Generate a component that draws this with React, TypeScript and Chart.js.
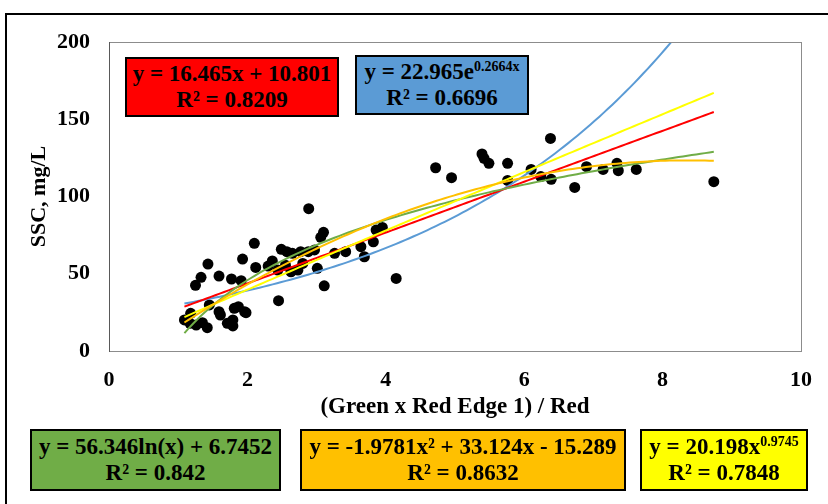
import React, { useEffect, useRef } from "react";
import { Chart, registerables } from "chart.js";

Chart.register(...registerables);

// Observed samples: band ratio (Green x Red Edge 1) / Red against SSC (mg/L)
const bandRatio = [
  1.09, 1.18, 1.17, 1.26, 1.35, 1.42, 1.45, 1.59, 1.61, 1.71, 1.79, 1.79, 1.87, 1.98,
  1.25, 1.33, 1.43, 1.59, 1.77, 1.91, 1.93, 2.1, 2.12, 2.36, 2.49, 2.57, 2.65, 2.77,
  2.88, 2.97, 2.44, 2.63, 2.73, 3.01, 2.45, 3.11, 2.886, 3.06, 3.1, 3.26, 3.42, 3.64,
  3.69, 3.82, 3.86, 3.95, 4.15, 4.72, 4.95, 5.39, 5.42, 5.49, 5.76, 5.76, 6.1, 6.38,
  6.24, 6.39, 6.73, 6.9, 7.14, 7.34, 7.36, 7.62, 8.74, 2.3, 2.55, 2.8, 1.81, 1.96,
];
const sscMgL = [
  20.1, 24.4, 17.9, 16.8, 18.3, 15.1, 29.8, 25.4, 23.3, 17.9, 20.1, 16.2, 28.7, 24.8,
  42.5, 47.7, 56.3, 48.5, 46.6, 45.5, 59.5, 69.7, 54.1, 58.3, 65.8, 64.3, 63.2, 64.3,
  64.3, 65.4, 52.4, 51.3, 52.4, 53.5, 32.6, 42.2, 92.1, 73.6, 76.8, 63.2, 64.3, 67.5,
  61.0, 70.7, 78.3, 80.0, 47.0, 118.6, 112.2, 127.5, 124.7, 121.5, 121.5, 110.4, 117.5, 137.6,
  112.9, 111.1, 105.9, 119.3, 117.5, 121.5, 116.7, 117.5, 109.6, 55.0, 55.5, 56.7, 27.6, 25.4,
];

// Fitted trendline coefficients
const linearFit = [16.465, 10.801]; // a*x + b
const exponentialFit = [22.965, 0.2664]; // a*e^(b*x)
const logarithmicFit = [56.346, 6.7452]; // a*ln(x) + b
const polynomialFit = [-1.9781, 33.124, -15.289]; // a*x^2 + b*x + c
const powerFit = [20.198, 0.9745]; // a*x^b

const xTicks = [0, 2, 4, 6, 8, 10];
const yTicks = [0, 50, 100, 150, 200];

const SERIF = "'Liberation Serif', 'Times New Roman', serif";

const trendColors = {
  linear: "#FF0000",
  exponential: "#5B9BD5",
  logarithmic: "#70AD47",
  polynomial: "#FFC000",
  power: "#FFFF00",
};

function curve(fn: (x: number) => number) {
  const lo = Math.min(...bandRatio);
  const hi = Math.max(...bandRatio);
  const steps = 120;
  const pts: { x: number; y: number }[] = [];
  for (let i = 0; i <= steps; i++) {
    const x = lo + ((hi - lo) * i) / steps;
    pts.push({ x, y: fn(x) });
  }
  return pts;
}

const plotFrame = {
  id: "plotFrame",
  afterDatasetsDraw(chart: any) {
    const { ctx, chartArea: a } = chart;
    ctx.save();
    ctx.lineWidth = 1;
    ctx.strokeStyle = "#8c8c8c";
    ctx.strokeRect(a.left + 0.5, a.top + 0.5, a.right - a.left, a.bottom - a.top);
    ctx.strokeStyle = "#595959";
    ctx.beginPath();
    ctx.moveTo(a.left + 0.5, a.top);
    ctx.lineTo(a.left + 0.5, a.bottom + 1);
    ctx.stroke();
    ctx.restore();
  },
};

function ScatterChart() {
  const ref = useRef<HTMLCanvasElement | null>(null);

  useEffect(() => {
    if (!ref.current) return;
    const points = bandRatio.map((x, i) => ({ x, y: sscMgL[i] }));
    const line = (data: any[], color: string, order: number) => ({
      type: "line" as const,
      data,
      borderColor: color,
      backgroundColor: color,
      borderWidth: 2,
      pointRadius: 0,
      fill: false,
      tension: 0,
      order,
    });

    const chart = new Chart(ref.current, {
      type: "scatter",
      data: {
        datasets: [
          {
            data: points,
            backgroundColor: "#000000",
            borderColor: "#000000",
            borderWidth: 0,
            pointRadius: 5.5,
            order: 10,
          } as any,
          line(curve((x) => exponentialFit[0] * Math.exp(exponentialFit[1] * x)), trendColors.exponential, 5),
          line(curve((x) => linearFit[0] * x + linearFit[1]), trendColors.linear, 4),
          line(curve((x) => logarithmicFit[0] * Math.log(x) + logarithmicFit[1]), trendColors.logarithmic, 3),
          line(curve((x) => powerFit[0] * Math.pow(x, powerFit[1])), trendColors.power, 2),
          line(
            curve((x) => polynomialFit[0] * x * x + polynomialFit[1] * x + polynomialFit[2]),
            trendColors.polynomial,
            1
          ),
        ],
      },
      options: {
        animation: false,
        responsive: false,
        devicePixelRatio: 1,
        layout: { padding: { left: 0, top: 42, right: 27, bottom: 73 } },
        plugins: { legend: { display: false }, tooltip: { enabled: false } },
        scales: {
          x: {
            type: "linear",
            min: xTicks[0],
            max: xTicks[xTicks.length - 1],
            afterBuildTicks: (s: any) => {
              s.ticks = xTicks.map((v) => ({ value: v }));
            },
            afterFit: (s: any) => {
              s.height = 80;
            },
            ticks: {
              padding: 16,
              color: "#000",
              font: { family: SERIF, size: 22, weight: "bold" },
            },
            grid: { display: false, drawTicks: false },
            border: { display: false },
            title: {
              display: true,
              text: "(Green x Red Edge 1) / Red",
              color: "#000",
              font: { family: SERIF, size: 23, weight: "bold" },
              padding: { top: 0, bottom: 10 },
            },
          },
          y: {
            type: "linear",
            min: yTicks[0],
            max: yTicks[yTicks.length - 1],
            afterBuildTicks: (s: any) => {
              s.ticks = yTicks.map((v) => ({ value: v }));
            },
            afterFit: (s: any) => {
              s.width = 109;
            },
            ticks: {
              padding: 19,
              color: "#000",
              font: { family: SERIF, size: 22, weight: "bold" },
            },
            grid: { display: false, drawTicks: false },
            border: { display: false },
            title: {
              display: true,
              text: "SSC, mg/L",
              color: "#000",
              font: { family: SERIF, size: 22, weight: "bold" },
              padding: { top: 26, bottom: 0 },
            },
          },
        },
      },
      plugins: [plotFrame],
    } as any);

    return () => chart.destroy();
  }, []);

  return <canvas ref={ref} width={828} height={504} style={{ display: "block" }} />;
}

type BoxProps = {
  left: number;
  top: number;
  width: number;
  height: number;
  color: string;
  children: React.ReactNode;
};

function EquationBox({ left, top, width, height, color, children }: BoxProps) {
  return (
    <div
      style={{
        position: "absolute",
        left,
        top,
        width,
        height,
        boxSizing: "border-box",
        border: "2px solid #000",
        background: color,
        display: "flex",
        flexDirection: "column",
        alignItems: "center",
        justifyContent: "center",
        fontFamily: SERIF,
        fontWeight: "bold",
        fontSize: 23,
        lineHeight: "26px",
        color: "#000",
        whiteSpace: "nowrap",
      }}
    >
      {children}
    </div>
  );
}

const sup: React.CSSProperties = { fontSize: 14, verticalAlign: "top", lineHeight: "14px", position: "relative", top: 1 };

export default function App() {
  return (
    <div
      style={{
        position: "fixed",
        left: 0,
        top: 0,
        width: 828,
        height: 504,
        overflow: "hidden",
        background: "#fff",
      }}
    >
      <div
        style={{
          position: "absolute",
          left: 5,
          top: 13,
          width: 900,
          height: 600,
          border: "2px solid #000",
          boxSizing: "border-box",
        }}
      />
      <div style={{ position: "absolute", left: 0, top: 0 }}>
        <ScatterChart />
      </div>
      <EquationBox left={125} top={57} width={214} height={60} color={trendColors.linear}>
        <div>y = 16.465x + 10.801</div>
        <div>R² = 0.8209</div>
      </EquationBox>
      <EquationBox left={355} top={55} width={174} height={60} color={trendColors.exponential}>
        <div>
          y = 22.965e<span style={sup}>0.2664x</span>
        </div>
        <div>R² = 0.6696</div>
      </EquationBox>
      <EquationBox left={30} top={429} width={251} height={62} color={trendColors.logarithmic}>
        <div>y = 56.346ln(x) + 6.7452</div>
        <div>R² = 0.842</div>
      </EquationBox>
      <EquationBox left={300} top={429} width={326} height={62} color={trendColors.polynomial}>
        <div>y = -1.9781x² + 33.124x - 15.289</div>
        <div>R² = 0.8632</div>
      </EquationBox>
      <EquationBox left={640} top={429} width={168} height={62} color={trendColors.power}>
        <div>
          y = 20.198x<span style={sup}>0.9745</span>
        </div>
        <div>R² = 0.7848</div>
      </EquationBox>
    </div>
  );
}
